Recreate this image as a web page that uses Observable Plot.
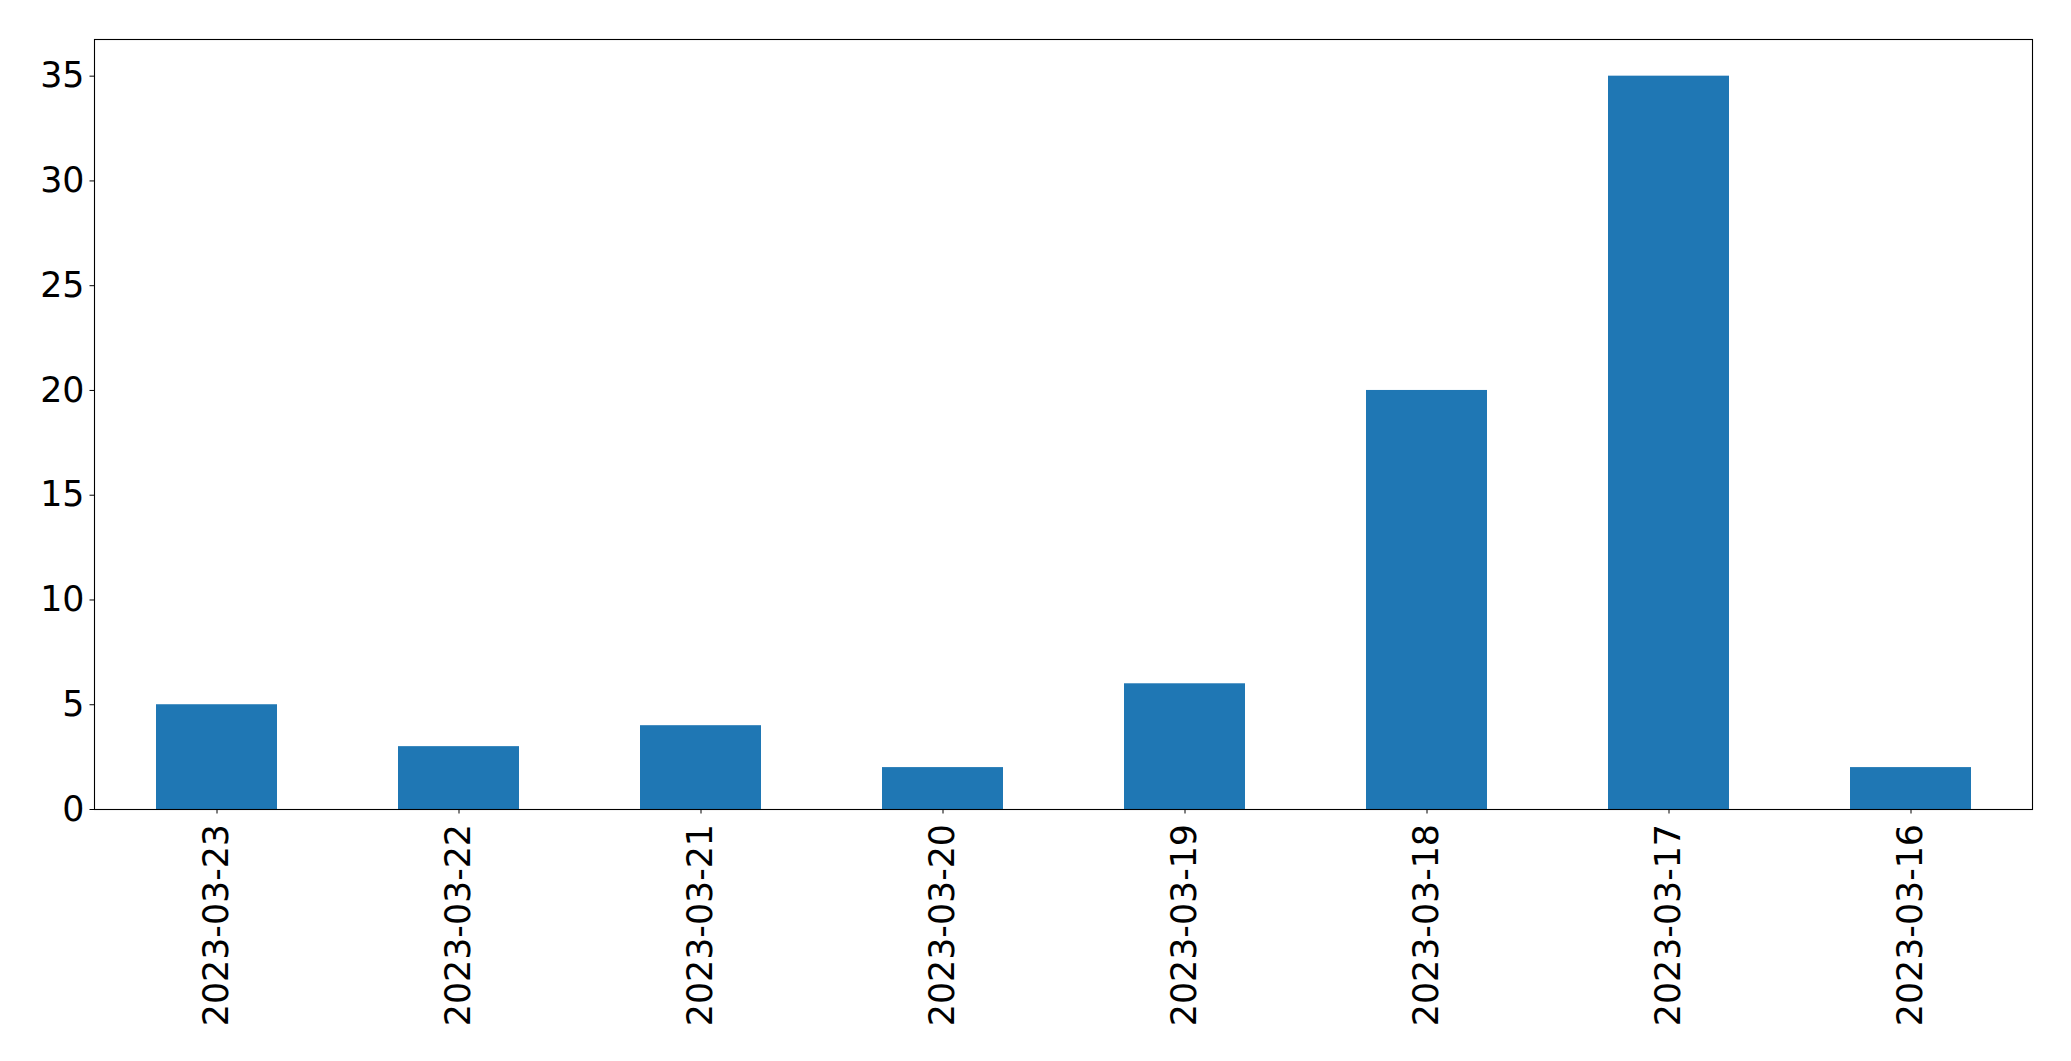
<!DOCTYPE html>
<html>
<head>
<meta charset="utf-8">
<script src="https://cdn.jsdelivr.net/npm/d3@7"></script>
<script src="https://cdn.jsdelivr.net/npm/@observablehq/plot@0.6"></script>
<style>
  html, body { margin: 0; padding: 0; background: #fff; overflow: hidden; }
  #chart svg { display: block; }
</style>
</head>
<body>
<div id="chart"></div>
<script>
const dates = ["2023-03-23", "2023-03-22", "2023-03-21", "2023-03-20", "2023-03-19", "2023-03-18", "2023-03-17", "2023-03-16"];
const counts = [5, 3, 4, 2, 6, 20, 35, 2];
const yTicks = [0, 5, 10, 15, 20, 25, 30, 35];

const data = dates.map((d, i) => ({date: d, count: counts[i]}));
const font = "DejaVu Sans, sans-serif";
const fs = 34.8;

const chart = Plot.plot({
  width: 2071,
  height: 1061,
  marginLeft: 94,
  marginRight: 39,
  marginTop: 39,
  marginBottom: 252,
  style: {fontFamily: font, background: "#fff", color: "#000"},
  x: {type: "band", domain: dates, paddingInner: 0.5, paddingOuter: 0.25, align: 0.5},
  y: {domain: [0, 36.75]},
  marks: [
    Plot.barY(data, {x: "date", y: "count", fill: "#1f77b4"}),
    Plot.axisY({ticks: yTicks, tickSize: 4.5, tickPadding: 5.5, fontSize: fs, label: null, stroke: "#000", fill: "#000"}),
    Plot.axisX({tickSize: 4.5, tickPadding: 10, tickRotate: -90, fontSize: fs, label: null, stroke: "#000", fill: "#000"}),
    Plot.frame({stroke: "#000", strokeWidth: 1.1})
  ]
});
document.getElementById("chart").appendChild(chart);
</script>
</body>
</html>
